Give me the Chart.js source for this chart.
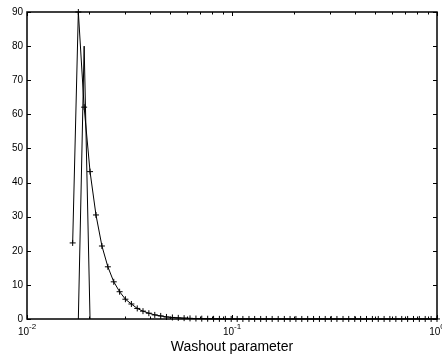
<!DOCTYPE html>
<html>
<head>
<meta charset="utf-8">
<script src="https://cdn.jsdelivr.net/npm/chart.js@4"></script>
<style>
  html, body { margin: 0; padding: 0; background: #fff; }
  #wrap { width: 442px; height: 358px; }
</style>
</head>
<body>
<div id="wrap"><canvas id="myChart"></canvas></div>
<script>
// washout parameter values (log spaced)
var washout = [0.0167, 0.0178, 0.0190, 0.0203, 0.0217, 0.0232, 0.0248, 0.0265, 0.0283, 0.0302,
    0.0323, 0.0345, 0.0368, 0.0393, 0.0420, 0.0449, 0.0479, 0.0512, 0.0547, 0.0584,
    0.0624, 0.0667, 0.0712, 0.0761, 0.0813, 0.0868, 0.0928, 0.0991, 0.106, 0.113,
    0.121, 0.129, 0.138, 0.147, 0.157, 0.168, 0.180, 0.192, 0.205, 0.219,
    0.234, 0.250, 0.267, 0.285, 0.305, 0.325, 0.348, 0.371, 0.397, 0.424,
    0.453, 0.484, 0.517, 0.552, 0.589, 0.630, 0.673, 0.719, 0.768, 0.820,
    0.876, 0.936, 1.0];
var response = [22.3, 90, 62.1, 43.2, 30.5, 21.4, 15.3, 10.9, 8.0, 5.8,
    4.4, 3.1, 2.3, 1.7, 1.2, 0.9, 0.6, 0.45, 0.33, 0.25,
    0.18, 0.13, 0.1, 0.07, 0.05, 0.04, 0.03, 0.02, 0.015, 0.01,
    0.01, 0.01, 0.01, 0.01, 0.01, 0.01, 0.01, 0.01, 0.01, 0.01,
    0.01, 0.01, 0.01, 0.01, 0.01, 0.01, 0.01, 0.01, 0.01, 0.01,
    0.01, 0.01, 0.01, 0.01, 0.01, 0.01, 0.01, 0.01, 0.01, 0.01,
    0.01, 0.01, 0.01];
// the thin spike without markers
var spikeX = [0.0178, 0.0190, 0.0203];
var spikeY = [0, 80, 0];
var yTicks = [0, 10, 20, 30, 40, 50, 60, 70, 80, 90];
var xDecades = [0.01, 0.1, 1];
var xDecadeExp = ['-2', '-1', '0'];

var fontName = '"Liberation Sans", Helvetica, Arial, sans-serif';

function toPoints(xs, ys) {
    var pts = [];
    for (var i = 0; i < xs.length; i++) {
        pts.push({ x: xs[i], y: ys[i] });
    }
    return pts;
}

// matlab style box, inward ticks and 10^n labels
var boxPlugin = {
    id: 'box',
    afterDraw: function (chart) {
        var ctx = chart.ctx;
        var a = chart.chartArea;
        var xs = chart.scales.x;
        var ys = chart.scales.y;
        ctx.save();
        ctx.strokeStyle = '#000';
        ctx.lineWidth = 1;
        ctx.beginPath();
        yTicks.forEach(function (v) {
            var py = Math.round(ys.getPixelForValue(v)) + 0.5;
            ctx.moveTo(a.left, py); ctx.lineTo(a.left + 4, py);
            ctx.moveTo(a.right, py); ctx.lineTo(a.right - 4, py);
        });
        for (var d = 0; d < xDecades.length; d++) {
            var px = Math.round(xs.getPixelForValue(xDecades[d])) + 0.5;
            ctx.moveTo(px, a.bottom); ctx.lineTo(px, a.bottom - 4);
            ctx.moveTo(px, a.top); ctx.lineTo(px, a.top + 4);
            if (d < xDecades.length - 1) {
                for (var m = 2; m <= 9; m++) {
                    var mx = Math.round(xs.getPixelForValue(xDecades[d] * m)) + 0.5;
                    ctx.moveTo(mx, a.bottom); ctx.lineTo(mx, a.bottom - 2.5);
                    ctx.moveTo(mx, a.top); ctx.lineTo(mx, a.top + 2.5);
                }
            }
        }
        ctx.stroke();
        ctx.lineWidth = 1.5;
        ctx.strokeRect(a.left, a.top, a.right - a.left, a.bottom - a.top);

        ctx.fillStyle = '#000';
        ctx.textBaseline = 'alphabetic';
        for (var k = 0; k < xDecades.length; k++) {
            var cx = xs.getPixelForValue(xDecades[k]);
            ctx.font = '10px ' + fontName;
            var w1 = ctx.measureText('10').width;
            ctx.font = '8px ' + fontName;
            var w2 = ctx.measureText(xDecadeExp[k]).width;
            var sx = cx - (w1 + w2) / 2;
            ctx.font = '10px ' + fontName;
            ctx.textAlign = 'left';
            ctx.fillText('10', sx, a.bottom + 16);
            ctx.font = '8px ' + fontName;
            ctx.fillText(xDecadeExp[k], sx + w1, a.bottom + 10);
        }
        ctx.restore();
    }
};

var ctx = document.getElementById('myChart').getContext('2d');
new Chart(ctx, {
    type: 'scatter',
    data: {
        datasets: [
            {
                data: toPoints(washout, response),
                showLine: true,
                borderColor: '#000',
                borderWidth: 1,
                pointStyle: 'cross',
                pointRadius: 3,
                pointBorderColor: '#000',
                pointBorderWidth: 1,
                clip: false
            },
            {
                data: toPoints(spikeX, spikeY),
                showLine: true,
                borderColor: '#000',
                borderWidth: 1,
                pointRadius: 0
            }
        ]
    },
    options: {
        responsive: true,
        maintainAspectRatio: false,
        animation: false,
        layout: { padding: { top: 12, right: 5, left: 0, bottom: 0 } },
        plugins: { legend: { display: false }, tooltip: { enabled: false } },
        scales: {
            x: {
                type: 'logarithmic',
                min: 0.01,
                max: 1,
                grid: { display: false },
                border: { display: false },
                ticks: { display: false },
                title: {
                    display: true,
                    text: 'Washout parameter',
                    color: '#000',
                    font: { family: fontName, size: 14 },
                    padding: { top: 0, bottom: 2 }
                },
                afterFit: function (scale) { scale.height = 39; }
            },
            y: {
                min: 0,
                max: 90,
                grid: { display: false, drawTicks: false },
                border: { display: false },
                ticks: {
                    stepSize: 10,
                    padding: 4,
                    color: '#000',
                    font: { family: fontName, size: 10 }
                },
                afterFit: function (scale) { scale.width = 27; }
            }
        }
    },
    plugins: [boxPlugin]
});
</script>
</body>
</html>
